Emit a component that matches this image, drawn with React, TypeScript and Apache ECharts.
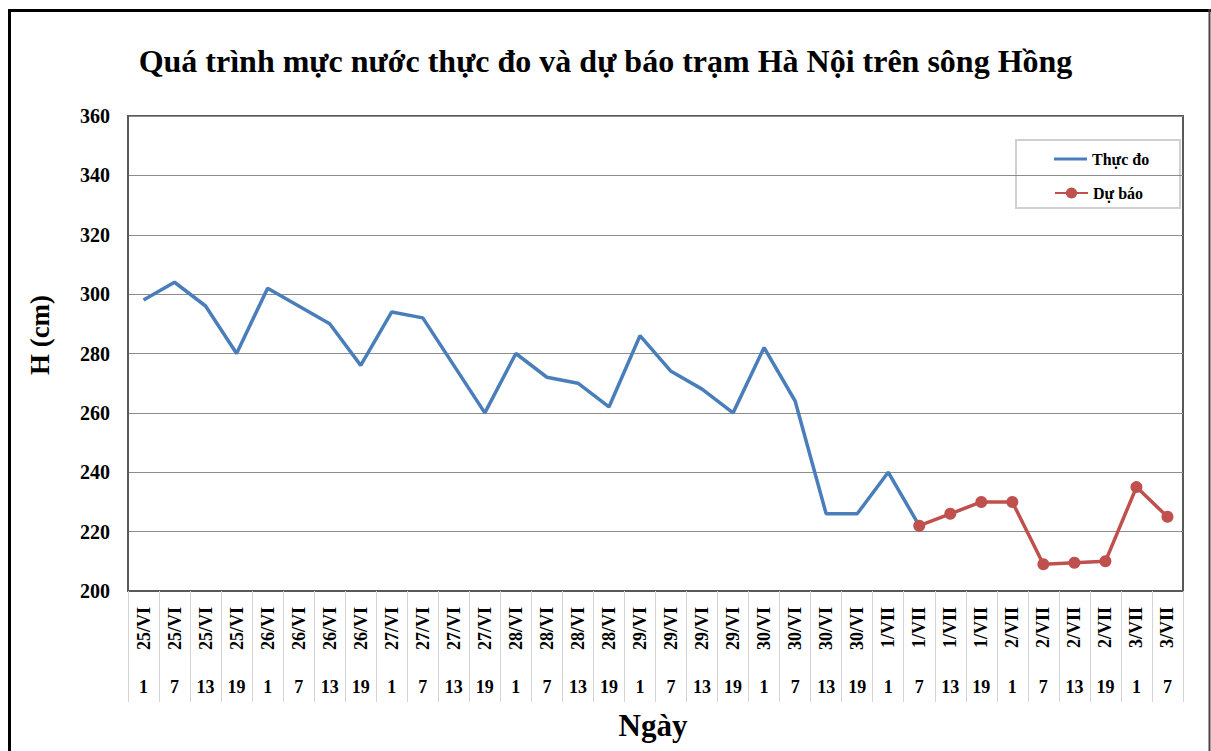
import React, { useEffect, useRef } from "react";
import * as echarts from "echarts";

const dateLabels = [
  "25/VI", "25/VI", "25/VI", "25/VI",
  "26/VI", "26/VI", "26/VI", "26/VI",
  "27/VI", "27/VI", "27/VI", "27/VI",
  "28/VI", "28/VI", "28/VI", "28/VI",
  "29/VI", "29/VI", "29/VI", "29/VI",
  "30/VI", "30/VI", "30/VI", "30/VI",
  "1/VII", "1/VII", "1/VII", "1/VII",
  "2/VII", "2/VII", "2/VII", "2/VII",
  "3/VII", "3/VII",
];

const hourLabels = [
  "1", "7", "13", "19", "1", "7", "13", "19",
  "1", "7", "13", "19", "1", "7", "13", "19",
  "1", "7", "13", "19", "1", "7", "13", "19",
  "1", "7", "13", "19", "1", "7", "13", "19",
  "1", "7",
];

const observed: (number | null)[] = [
  298, 304, 296, 280, 302, 296, 290, 276,
  294, 292, 276, 260, 280, 272, 270, 262,
  286, 274, 268, 260, 282, 264, 226, 226,
  240, 222, null, null, null, null, null, null,
  null, null,
];

const forecast: (number | null)[] = [
  null, null, null, null, null, null, null, null,
  null, null, null, null, null, null, null, null,
  null, null, null, null, null, null, null, null,
  null, 222, 226, 230, 230, 209, 209.5, 210,
  235, 225,
];

const yTicks = { min: 200, max: 360, interval: 20 };

const FONT = "'Liberation Serif', 'Times New Roman', serif";

export default function App() {
  const ref = useRef<HTMLDivElement>(null);

  useEffect(() => {
    document.body.style.margin = "0";
    if (!ref.current) return;
    const chart = echarts.init(ref.current, undefined, { renderer: "svg" });
    const legendText = { fontFamily: FONT, fontWeight: "bold", fontSize: 16, color: "#000", lineHeight: 16 };
    chart.setOption({
      animation: false,
      backgroundColor: "#ffffff",
      title: {
        text: "Quá trình mực nước thực đo và dự báo trạm Hà Nội trên sông Hồng",
        left: "center",
        top: 40,
        textStyle: { fontFamily: FONT, fontWeight: "bold", fontSize: 32, color: "#000" },
      },
      grid: {
        left: 128,
        top: 116,
        right: 28,
        bottom: 160,
        show: true,
        borderColor: "#595959",
        borderWidth: 2,
      },
      legend: [
        {
          left: 1049,
          top: 146,
          icon: "rect",
          itemWidth: 33,
          itemHeight: 3,
          textStyle: legendText,
          data: ["Thực đo"],
        },
        {
          left: 1049,
          top: 180,
          itemWidth: 33,
          itemHeight: 14,
          textStyle: legendText,
          data: ["Dự báo"],
        },
      ],
      xAxis: [
        {
          type: "category",
          data: dateLabels,
          boundaryGap: true,
          position: "bottom",
          axisLine: { show: true, lineStyle: { color: "#595959", width: 2 } },
          axisTick: { show: true, interval: 0, length: 111, lineStyle: { color: "#d4d4d4", width: 1 } },
          axisLabel: {
            interval: 0,
            rotate: 90,
            margin: 16,
            fontFamily: FONT,
            fontWeight: "bold",
            fontSize: 18,
            color: "#000",
          },
          splitLine: { show: false },
        },
        {
          type: "category",
          data: hourLabels,
          boundaryGap: true,
          position: "bottom",
          axisLine: { show: false },
          axisTick: { show: false },
          axisLabel: {
            interval: 0,
            margin: 87,
            fontFamily: FONT,
            fontWeight: "bold",
            fontSize: 18,
            color: "#000",
          },
          splitLine: { show: false },
        },
      ],
      yAxis: {
        type: "value",
        min: yTicks.min,
        max: yTicks.max,
        interval: yTicks.interval,
        axisLine: { show: true, lineStyle: { color: "#595959", width: 2 } },
        axisTick: { show: false },
        axisLabel: {
          margin: 18,
          fontFamily: FONT,
          fontWeight: "bold",
          fontSize: 20,
          color: "#000",
        },
        splitLine: { show: true, lineStyle: { color: "#8c8c8c", width: 1 } },
      },
      graphic: [
        {
          type: "line",
          shape: { x1: 9.5, y1: 9, x2: 9.5, y2: 751 },
          style: { stroke: "#000", lineWidth: 3 },
        },
        {
          type: "line",
          shape: { x1: 8, y1: 10.5, x2: 1211, y2: 10.5 },
          style: { stroke: "#000", lineWidth: 3 },
        },
        {
          type: "line",
          shape: { x1: 1209.5, y1: 9, x2: 1209.5, y2: 751 },
          style: { stroke: "#444", lineWidth: 2 },
        },
        {
          type: "rect",
          shape: { x: 1016, y: 140, width: 164, height: 68 },
          style: { fill: "none", stroke: "#d0d0d0", lineWidth: 2 },
        },
        {
          type: "text",
          x: 40,
          y: 335,
          rotation: Math.PI / 2,
          style: {
            text: "H (cm)",
            fontFamily: FONT,
            fontWeight: "bold",
            fontSize: 27,
            fill: "#000",
            align: "center",
            verticalAlign: "middle",
          },
        },
        {
          type: "text",
          x: 653,
          y: 725,
          style: {
            text: "Ngày",
            fontFamily: FONT,
            fontWeight: "bold",
            fontSize: 31,
            fill: "#000",
            align: "center",
            verticalAlign: "middle",
          },
        },
      ],
      series: [
        {
          name: "Thực đo",
          type: "line",
          xAxisIndex: 0,
          data: observed,
          symbol: "none",
          lineStyle: { color: "#4a7ebb", width: 3.5 },
          itemStyle: { color: "#4a7ebb" },
          connectNulls: false,
        },
        {
          name: "Dự báo",
          type: "line",
          xAxisIndex: 0,
          data: forecast,
          symbol: "circle",
          symbolSize: 12,
          lineStyle: { color: "#c0504d", width: 3.5 },
          itemStyle: { color: "#c0504d" },
          connectNulls: false,
        },
      ],
    });
    return () => chart.dispose();
  }, []);

  return <div ref={ref} style={{ width: 1211, height: 751 }} />;
}
